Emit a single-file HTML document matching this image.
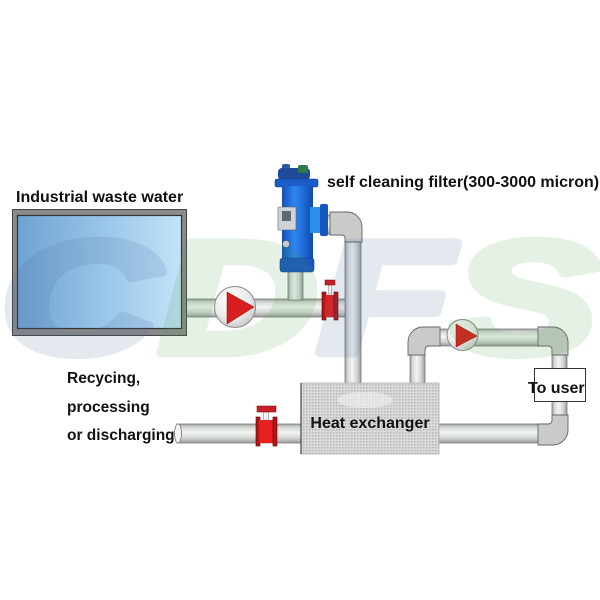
<!DOCTYPE html>
<html><head><meta charset="utf-8"><style>
html,body{margin:0;padding:0;background:#fff;}
svg{display:block;}
.t{font-family:"Liberation Sans",Arial,sans-serif;font-weight:bold;fill:#111;}
</style></head><body>
<svg width="600" height="600" viewBox="0 0 600 600" xmlns="http://www.w3.org/2000/svg">
<defs>
<linearGradient id="ph" x1="0" y1="0" x2="0" y2="1">
 <stop offset="0" stop-color="#9ea4a0"/>
 <stop offset="0.18" stop-color="#d6dad6"/>
 <stop offset="0.45" stop-color="#f2f4f2"/>
 <stop offset="0.75" stop-color="#d0d4d0"/>
 <stop offset="1" stop-color="#969c98"/>
</linearGradient>
<linearGradient id="pv" x1="0" y1="0" x2="1" y2="0">
 <stop offset="0" stop-color="#9ea4a8"/>
 <stop offset="0.18" stop-color="#d6dadc"/>
 <stop offset="0.45" stop-color="#f2f4f4"/>
 <stop offset="0.75" stop-color="#d0d4d6"/>
 <stop offset="1" stop-color="#969ca0"/>
</linearGradient>
<linearGradient id="tank" x1="0" y1="0" x2="1" y2="0">
 <stop offset="0" stop-color="#6ea3d2"/>
 <stop offset="0.6" stop-color="#9fcaec"/>
 <stop offset="1" stop-color="#c4e2f7"/>
</linearGradient>
<linearGradient id="blue" x1="0" y1="0" x2="1" y2="0">
 <stop offset="0" stop-color="#1550b8"/>
 <stop offset="0.4" stop-color="#2f86ee"/>
 <stop offset="0.7" stop-color="#1e6ad8"/>
 <stop offset="1" stop-color="#1248a8"/>
</linearGradient>
<radialGradient id="pump" cx="0.4" cy="0.35" r="0.7">
 <stop offset="0" stop-color="#ffffff"/>
 <stop offset="0.6" stop-color="#ececec"/>
 <stop offset="1" stop-color="#c8c8c8"/>
</radialGradient>
<pattern id="dots" width="3" height="3" patternUnits="userSpaceOnUse">
 <rect width="3" height="3" fill="#dadada"/>
 <rect width="1.5" height="1.5" fill="#b6b6b6"/>
</pattern>
</defs>

<rect width="600" height="600" fill="#fff"/>

<!-- pipes -->
<rect x="186" y="299" width="160" height="18" fill="url(#ph)" stroke="#7a7a7a" stroke-width="0.8"/>
<rect x="288" y="268" width="15" height="32" fill="url(#pv)" stroke="#7a7a7a" stroke-width="0.8"/>
<rect x="345" y="238" width="16" height="146" fill="url(#pv)" stroke="#7a7a7a" stroke-width="0.8"/>
<rect x="324" y="215" width="10" height="19" fill="url(#ph)" stroke="#7a7a7a" stroke-width="0.8"/>
<path d="M330,212 L347,212 A15,15 0 0 1 362,227 L362,242 L345,242 L345,238 Q345,235 341,235 L330,235 Z" fill="#c9cbc9" stroke="#666" stroke-width="0.9"/>

<rect x="177" y="424" width="125" height="19" fill="url(#ph)" stroke="#7a7a7a" stroke-width="0.8"/>
<ellipse cx="178" cy="433.5" rx="3.5" ry="9.5" fill="#f4f4f4" stroke="#777" stroke-width="0.8"/>
<rect x="438" y="424" width="104" height="19" fill="url(#ph)" stroke="#7a7a7a" stroke-width="0.8"/>
<rect x="552" y="350" width="15" height="68" fill="url(#pv)" stroke="#7a7a7a" stroke-width="0.8"/>
<rect x="410" y="350" width="15" height="35" fill="url(#pv)" stroke="#7a7a7a" stroke-width="0.8"/>
<rect x="436" y="329" width="106" height="17" fill="url(#ph)" stroke="#7a7a7a" stroke-width="0.8"/>

<path d="M440,327 L423,327 A15,15 0 0 0 408,342 L408,355 L425,355 L425,350 Q425,346 429,346 L440,346 Z" fill="#c9cbc9" stroke="#666" stroke-width="0.9"/>
<path d="M538,327 L553,327 A15,15 0 0 1 568,342 L568,355 L552,355 L552,350 Q552,346 548,346 L538,346 Z" fill="#c9cbc9" stroke="#666" stroke-width="0.9"/>
<path d="M538,445 L553,445 A15,15 0 0 0 568,430 L568,415 L552,415 L552,420 Q552,424 548,424 L538,424 Z" fill="#c9cbc9" stroke="#666" stroke-width="0.9"/>

<!-- valve 1 -->
<rect x="322" y="292" width="4" height="28" fill="#b01818" stroke="#600" stroke-width="0.6"/>
<rect x="325" y="295" width="10" height="22" fill="#e02020"/>
<rect x="334" y="292" width="4" height="28" fill="#b01818" stroke="#600" stroke-width="0.6"/>
<rect x="328.5" y="285" width="3" height="9" fill="#f0f0f0" stroke="#777" stroke-width="0.5"/>
<rect x="325" y="280" width="10" height="5" fill="#c8202a" stroke="#700" stroke-width="0.5"/>

<!-- valve 2 -->
<rect x="256" y="417" width="4" height="29" fill="#b01818" stroke="#600" stroke-width="0.6"/>
<rect x="259" y="420" width="15" height="23" fill="#e82020"/>
<rect x="273" y="417" width="4" height="29" fill="#b01818" stroke="#600" stroke-width="0.6"/>
<rect x="263.5" y="412" width="5" height="8" fill="#f4f4f4" stroke="#777" stroke-width="0.5"/>
<rect x="257" y="406" width="19" height="6" fill="#c8202a" stroke="#700" stroke-width="0.5"/>

<!-- pumps -->
<circle cx="235" cy="307" r="20.5" fill="url(#pump)" stroke="#8a8a8a" stroke-width="1"/>
<polygon points="227,292 227,324 254,307" fill="#d81e1e" stroke="#900" stroke-width="0.5"/>
<circle cx="462.5" cy="335" r="15.5" fill="url(#pump)" stroke="#8a8a8a" stroke-width="1"/>
<polygon points="456,324 456,347 477,336" fill="#d81e1e" stroke="#900" stroke-width="0.5"/>

<!-- tank -->
<rect x="12.5" y="209.5" width="174" height="126" fill="#8a8a8a" stroke="#444" stroke-width="1"/>
<rect x="17.5" y="215.5" width="164" height="113" fill="url(#tank)" stroke="#333" stroke-width="1.2"/>

<!-- filter -->
<rect x="282" y="164" width="8" height="7" rx="2" fill="#2a5ab0"/>
<rect x="278" y="168" width="32" height="12" rx="4" fill="#1f4a9a"/>
<rect x="298" y="165" width="10" height="8" rx="2" fill="#2f7a4a"/>
<rect x="275" y="179" width="43" height="8" rx="2" fill="#1a5cc8" stroke="#0f3a80" stroke-width="0.6"/>
<rect x="282" y="186" width="31" height="74" fill="url(#blue)"/>
<rect x="310" y="207" width="13" height="26" fill="#2a90e8"/>
<rect x="320" y="204" width="8" height="32" rx="2" fill="#1456c0"/>
<rect x="278" y="207" width="18" height="23" rx="1" fill="#d0d4d8" stroke="#556" stroke-width="0.6"/>
<rect x="282" y="211" width="9" height="10" fill="#606870"/>
<circle cx="286" cy="244" r="3.5" fill="#c8ccc8" stroke="#555" stroke-width="0.5"/>
<rect x="280" y="258" width="34" height="14" rx="3" fill="#1a56c0" stroke="#0f3a80" stroke-width="0.6"/>

<!-- heat exchanger -->
<rect x="301" y="383" width="138" height="71" fill="url(#dots)" stroke="#b0b0b0" stroke-width="0.8"/>
<ellipse cx="365" cy="400" rx="28" ry="8" fill="#f2f2f2" opacity="0.6"/>
<line x1="301" y1="383" x2="301" y2="454" stroke="#444" stroke-width="1.2"/>
<text class="t" x="370" y="428" font-size="16" text-anchor="middle">Heat exchanger</text>

<!-- to user -->
<rect x="534.5" y="368.5" width="51" height="33" fill="#fff" stroke="#333" stroke-width="1"/>
<text class="t" x="528" y="393" font-size="16">To user</text>

<!-- labels -->
<text class="t" x="16" y="202" font-size="16">Industrial waste water</text>
<text class="t" x="327" y="187" font-size="16">self cleaning filter(300-3000 micron)</text>
<text class="t" x="67" y="383" font-size="15.5">Recycing,</text>
<text class="t" x="67" y="412" font-size="15.5">processing</text>
<text class="t" x="67" y="440" font-size="15.5">or discharging</text>

<!-- watermark -->
<g opacity="0.14">
<text x="0" y="353" font-family="Liberation Sans, Arial, sans-serif" font-weight="bold" font-style="italic" font-size="160" textLength="598" lengthAdjust="spacingAndGlyphs" stroke-width="9" stroke-linejoin="round"><tspan fill="rgb(70,100,150)" stroke="rgb(70,100,150)">C</tspan><tspan fill="rgb(70,160,70)" stroke="rgb(70,160,70)">D</tspan><tspan fill="rgb(70,100,150)" stroke="rgb(70,100,150)">F</tspan><tspan fill="rgb(70,160,70)" stroke="rgb(70,160,70)">S</tspan></text>
</g>
</svg>
</body></html>
